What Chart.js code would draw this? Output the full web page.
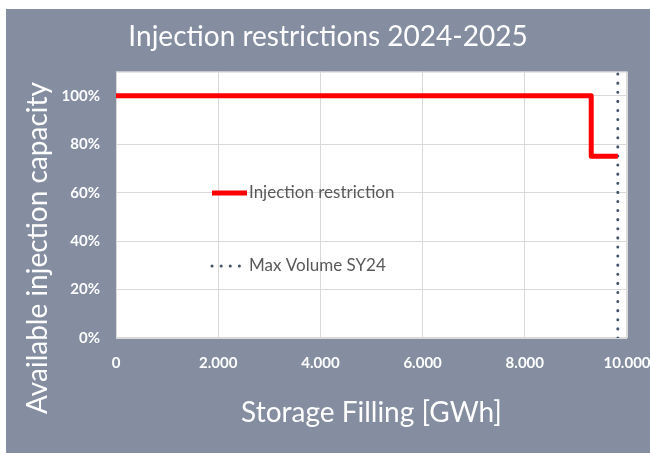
<!DOCTYPE html>
<html>
<head>
<meta charset="utf-8">
<script src="https://cdn.jsdelivr.net/npm/chart.js@4.4.1/dist/chart.umd.min.js"></script>
<style>
  html, body { margin: 0; padding: 0; background: #fff; }
  #wrap { width: 650px; height: 453px; }
</style>
</head>
<body>
<div id="wrap"><canvas id="chart" width="650" height="453"></canvas></div>
<script>
const chartTitle = "Injection restrictions 2024-2025";
const xTitle = "Storage Filling [GWh]";
const yTitle = "Available injection capacity";

const xTickValues = [0, 2000, 4000, 6000, 8000, 10000];
const xTickLabels = ["0", "2.000", "4.000", "6.000", "8.000", "10.000"];

const restrictionLabel = "Injection restriction";
const restrictionFilling = [0, 9300, 9820];
const restrictionCapacity = [1, 0.75, 0.75];

const maxVolumeLabel = "Max Volume SY24";
const maxVolumeFilling = [9820, 9820];
const maxVolumeCapacity = [0, 1.1];

const bgGrey = "#848ea0";
const gridGrey = "#d9d9d9";
const font = "Lato";

const toPoints = (xs, ys) => xs.map((x, i) => ({x: x, y: ys[i]}));

// grey frame, white plot area and its border
const framePlugin = {
  id: "frame",
  beforeDraw(chart) {
    const {ctx, chartArea: a} = chart;
    ctx.save();
    ctx.fillStyle = "#fff";
    ctx.fillRect(0, 0, chart.width, chart.height);
    ctx.fillStyle = bgGrey;
    ctx.fillRect(6, 9, chart.width - 6, chart.height - 9);
    ctx.fillStyle = "#fff";
    ctx.fillRect(a.left, a.top, a.width, a.height);
    ctx.restore();
  },
  beforeDatasetsDraw(chart) {
    const {ctx, chartArea: a} = chart;
    ctx.save();
    ctx.strokeStyle = gridGrey;
    ctx.lineWidth = 1;
    ctx.strokeRect(a.left + 0.5, a.top + 0.5, a.width - 1, a.height - 1);
    ctx.restore();
  },
  afterDraw(chart) {
    const ctx = chart.ctx;
    ctx.save();
    ctx.translate(38, 248);
    ctx.rotate(-Math.PI / 2);
    ctx.font = "28px " + font;
    ctx.fillStyle = "#fff";
    ctx.textAlign = "center";
    ctx.textBaseline = "middle";
    ctx.fillText(yTitle, 0, 0);
    ctx.restore();
  }
};

// legend drawn inside the plot area
const innerLegend = {
  id: "innerLegend",
  afterDatasetsDraw(chart) {
    const ctx = chart.ctx;
    const rows = [193, 266];
    ctx.save();
    chart.data.datasets.forEach((ds, i) => {
      const y = rows[i];
      ctx.beginPath();
      ctx.strokeStyle = ds.borderColor;
      ctx.lineWidth = ds.borderWidth;
      ctx.lineCap = ds.borderCapStyle || "butt";
      ctx.setLineDash(ds.borderDash || []);
      ctx.moveTo(212, y);
      ctx.lineTo(i === 0 ? 247 : 242, y);
      ctx.stroke();
      ctx.setLineDash([]);
      ctx.font = "17px " + font;
      ctx.fillStyle = "#595959";
      ctx.textBaseline = "middle";
      ctx.fillText(ds.label, 249, y);
    });
    ctx.restore();
  }
};

const data = {
  datasets: [
    {
      label: restrictionLabel,
      data: toPoints(restrictionFilling, restrictionCapacity),
      borderColor: "#ff0000",
      borderWidth: 5,
      stepped: true,
      borderJoinStyle: "round",
      borderCapStyle: "butt",
      pointRadius: 0,
      fill: false
    },
    {
      label: maxVolumeLabel,
      data: toPoints(maxVolumeFilling, maxVolumeCapacity),
      borderColor: "#44546a",
      borderWidth: 3,
      borderDash: [0.1, 9],
      borderCapStyle: "round",
      pointRadius: 0,
      fill: false
    }
  ]
};

const config = {
  type: "line",
  data: data,
  options: {
    responsive: false,
    animation: false,
    layout: { padding: { left: 6, top: 9, right: 0, bottom: 0 } },
    plugins: {
      legend: { display: false },
      tooltip: { enabled: false },
      title: {
        display: true,
        text: chartTitle,
        color: "#fff",
        font: { family: font, size: 28, weight: "normal" },
        padding: { top: 11, bottom: 18 }
      }
    },
    scales: {
      x: {
        type: "linear",
        min: 0,
        max: 10000,
        afterBuildTicks: (s) => { s.ticks = xTickValues.map(v => ({value: v})); },
        afterFit: (s) => { s.height = 115; s.paddingRight = 23; s.paddingLeft = 0; },
        ticks: {
          color: "#fff",
          font: { family: font, size: 15, weight: "bold" },
          padding: 16,
          maxRotation: 0,
          callback: (v) => xTickLabels[xTickValues.indexOf(v)]
        },
        grid: { color: gridGrey, drawTicks: false },
        border: { display: false },
        title: {
          display: true,
          text: xTitle,
          color: "#fff",
          font: { family: font, size: 28 },
          padding: { top: 0, bottom: 23 }
        }
      },
      y: {
        min: 0,
        max: 1.1,
        afterFit: (s) => { s.width = 110; },
        ticks: {
          stepSize: 0.2,
          includeBounds: false,
          color: "#fff",
          font: { family: font, size: 15, weight: "bold" },
          padding: 16,
          callback: (v) => Math.round(v * 100) + "%"
        },
        grid: { color: gridGrey, drawTicks: false },
        border: { display: false }
      }
    }
  },
  plugins: [framePlugin, innerLegend]
};

new Chart(document.getElementById("chart"), config);
</script>
</body>
</html>
